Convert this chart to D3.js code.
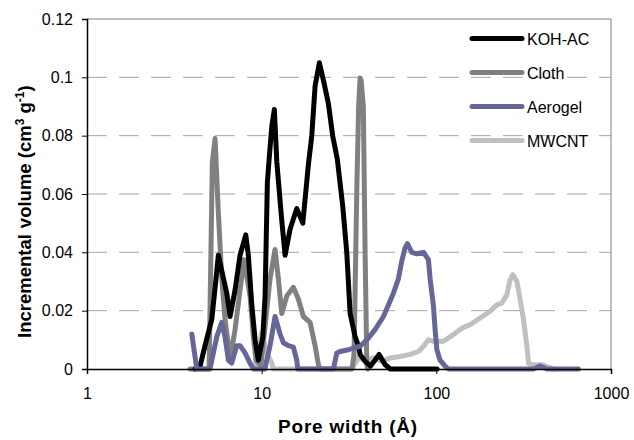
<!DOCTYPE html>
<html>
<head>
<meta charset="utf-8">
<script src="https://cdn.jsdelivr.net/npm/d3@7"></script>
<style>
  html, body { margin: 0; padding: 0; background: #fff; }
  svg { display: block; font-family: "Liberation Sans", Arial, sans-serif; }
</style>
</head>
<body>
<svg id="chart" width="634" height="440"></svg>
<script>
// ---- data (pore width in Å, incremental volume in cm3/g) ----
const seriesNames = ["KOH-AC", "Cloth", "Aerogel", "MWCNT"];
const seriesColors = ["#000000", "#808080", "#666699", "#c0c0c0"];

const kohAC = [
  [4.16,0],[4.44,0.001],[4.74,0.008],[5.18,0.017],[5.48,0.031],[5.65,0.039],
  [6.31,0.026],[6.59,0.018],[7.04,0.027],[7.52,0.039],[8.11,0.046],[8.39,0.039],
  [8.78,0.022],[9.17,0.010],[9.57,0.003],[10.15,0.011],[10.46,0.025],[10.78,0.064],
  [11.07,0.073],[11.42,0.083],[11.82,0.089],[12.21,0.071],[13.03,0.051],[13.62,0.039],
  [14.55,0.048],[15.89,0.055],[17.2,0.050],[18.51,0.070],[19.36,0.080],[20.22,0.097],
  [21.4,0.105],[22.76,0.098],[24.1,0.091],[25.5,0.080],[27.1,0.072],[29.1,0.056],
  [30.7,0.040],[32.1,0.019],[34.3,0.011],[35.8,0.008],[36.6,0.005],[39.1,0.0026],
  [42,0.001],[44.5,0.003],[47.0,0.005],[50.9,0.0015],[54.4,0],[101,0]
];

const cloth = [
  [3.89,0],[5.0,0],[5.22,0.071],[5.41,0.079],[5.65,0.0535],[5.91,0.031],
  [6.17,0.017],[6.45,0.008],[6.59,0.003],[7.04,0.0135],[7.52,0.027],[7.93,0.0375],
  [8.58,0.025],[8.97,0.011],[9.29,0.003],[9.9,0.001],[11.17,0.031],[11.93,0.041],
  [12.46,0.031],[13.03,0.019],[13.93,0.025],[15.19,0.028],[16.22,0.024],[17.33,0.018],
  [18.93,0.016],[20.22,0.008],[21.13,0.0015],[21.5,0],[32.9,0],[33.8,0.005],
  [35.05,0.0615],[35.9,0.09],[36.6,0.0998],[37.1,0.099],[38.2,0.090],[39.1,0.040],
  [40.0,0.0015],[40.5,0]
];

const aerogel = [
  [3.98,0.012],[4.16,0.004],[4.25,0],[5.06,0],[5.53,0.011],[5.91,0.016],
  [6.17,0.011],[6.45,0.003],[6.74,0.002],[7.20,0.008],[7.52,0.008],[8.03,0.0055],
  [8.58,0.002],[8.97,0],[10.46,0],[10.6,0.002],[11.17,0.008],[11.93,0.018],
  [12.75,0.012],[13.31,0.009],[14.22,0.008],[15.19,0.0075],[15.89,0.003],[16.1,0],
  [25.75,0],[26.92,0.0055],[28.1,0.006],[31.4,0.0066],[33.5,0.0072],[36.6,0.0078],
  [40.0,0.010],[44.6,0.0135],[49.8,0.018],[56.8,0.026],[60.7,0.031],[63.4,0.037],
  [66.2,0.0415],[68.3,0.043],[72.4,0.040],[77.3,0.0395],[84.4,0.040],[90.1,0.0375],
  [92.1,0.031],[96.3,0.0215],[98.4,0.0135],[100.7,0.0066],[105.1,0.003],[112.3,0.001],
  [117.3,0],[360,0],[393,0.001],[430,0],[651,0]
];

const mwcnt = [
  [9.17,0.0015],[10.01,0.0123],[10.7,0.0055],[11.42,0.002],[11.66,0],[32.8,0],
  [35.8,0.0038],[39.1,0.003],[43.6,0.0038],[48.7,0.0026],[54.4,0.0038],[62.0,0.0043],
  [70.8,0.005],[79.0,0.006],[84.4,0.0078],[90.1,0.010],[96.3,0.0095],[109.8,0.0095],
  [125.3,0.0118],[140,0.014],[156.2,0.0152],[178.2,0.0175],[203.4,0.0198],[222.1,0.022],
  [237.2,0.0226],[253.4,0.0255],[264.7,0.0306],[274.4,0.0323],[289.2,0.030],[302,0.0238],
  [315.6,0.0169],[330,0.0078],[337,0.002],[352.4,0.0015],[402,0.0015],[468.6,0]
];

const xTicks = [1, 10, 100, 1000];
const xTickLabels = ["1", "10", "100", "1000"];
const yTicks = [0, 0.02, 0.04, 0.06, 0.08, 0.1, 0.12];
const yTickLabels = ["0", "0.02", "0.04", "0.06", "0.08", "0.1", "0.12"];

// ---- layout ----
const svg = d3.select("#chart");
const L = 87, R = 611, T = 19, B = 369;

const x = d3.scaleLog().domain([1, 1000]).range([L, R]);
const y = d3.scaleLinear().domain([0, 0.12]).range([B, T]);

// gridlines (dashed)
svg.append("g").selectAll("line")
  .data(yTicks.filter(d => d > 0 && d < 0.12))
  .join("line")
  .attr("x1", L).attr("x2", R)
  .attr("y1", d => y(d)).attr("y2", d => y(d))
  .attr("stroke", "#a6a6a6").attr("stroke-width", 1)
  .attr("stroke-dasharray", "20,12");

// frame: top and right
svg.append("line").attr("x1", L).attr("x2", R).attr("y1", T).attr("y2", T)
  .attr("stroke", "#808080").attr("stroke-width", 1);
svg.append("line").attr("x1", R).attr("x2", R).attr("y1", T).attr("y2", B)
  .attr("stroke", "#808080").attr("stroke-width", 1);

// series lines
const line = d3.line().x(d => x(d[0])).y(d => y(d[1]));
const allSeries = [kohAC, cloth, aerogel, mwcnt];
const drawOrder = [3, 1, 0, 2];
const gLines = svg.append("g");
drawOrder.forEach(i => {
  gLines.append("path")
    .datum(allSeries[i])
    .attr("d", line)
    .attr("fill", "none")
    .attr("stroke", seriesColors[i])
    .attr("stroke-width", 5)
    .attr("stroke-linejoin", "round")
    .attr("stroke-linecap", "round");
});

// axes
const xAxis = d3.axisBottom(x).tickValues(xTicks)
  .tickFormat((d, i) => xTickLabels[i]).tickSize(5).tickPadding(14);
const gx = svg.append("g").attr("transform", `translate(0,${B})`).call(xAxis);
gx.select(".domain").attr("stroke", "#000").attr("stroke-width", 1.5);
gx.selectAll(".tick line").attr("stroke", "#000");
gx.selectAll("text").attr("font-size", 16).attr("fill", "#000")
  .attr("font-family", "Liberation Sans, Arial, sans-serif");

const yAxis = d3.axisLeft(y).tickValues(yTicks)
  .tickFormat((d, i) => yTickLabels[i]).tickSize(5).tickPadding(9);
const gy = svg.append("g").attr("transform", `translate(${L},0)`).call(yAxis);
gy.select(".domain").attr("stroke", "#000").attr("stroke-width", 1.5);
gy.selectAll(".tick line").attr("stroke", "#000");
gy.selectAll("text").attr("font-size", 16).attr("fill", "#000")
  .attr("font-family", "Liberation Sans, Arial, sans-serif");

// axis titles
svg.append("text")
  .attr("x", 348).attr("y", 433)
  .attr("text-anchor", "middle")
  .attr("font-size", 19).attr("font-weight", "bold")
  .attr("letter-spacing", 0.8)
  .text("Pore width (Å)");

const yt = svg.append("text")
  .attr("transform", "translate(31,338) rotate(-90)")
  .attr("text-anchor", "start")
  .attr("font-size", 18.5).attr("font-weight", "bold");
yt.append("tspan").text("Incremental");
yt.append("tspan").attr("dx", 6).text("volume (cm");
yt.append("tspan").attr("font-size", 12).attr("dy", -7).text("3");
yt.append("tspan").attr("dy", 7).text(" g");
yt.append("tspan").attr("font-size", 12).attr("dy", -7).text("-1");
yt.append("tspan").attr("dy", 7).text(")");

// legend
const legend = svg.append("g");
seriesNames.forEach((name, i) => {
  const ly = 38.5 + i * 34;
  legend.append("line")
    .attr("x1", 472).attr("x2", 522).attr("y1", ly).attr("y2", ly)
    .attr("stroke", seriesColors[i]).attr("stroke-width", 5)
    .attr("stroke-linecap", "round");
  legend.append("text")
    .attr("x", 527).attr("y", ly + 6)
    .attr("font-size", 16).attr("fill", "#000")
    .text(name);
});
</script>
</body>
</html>
